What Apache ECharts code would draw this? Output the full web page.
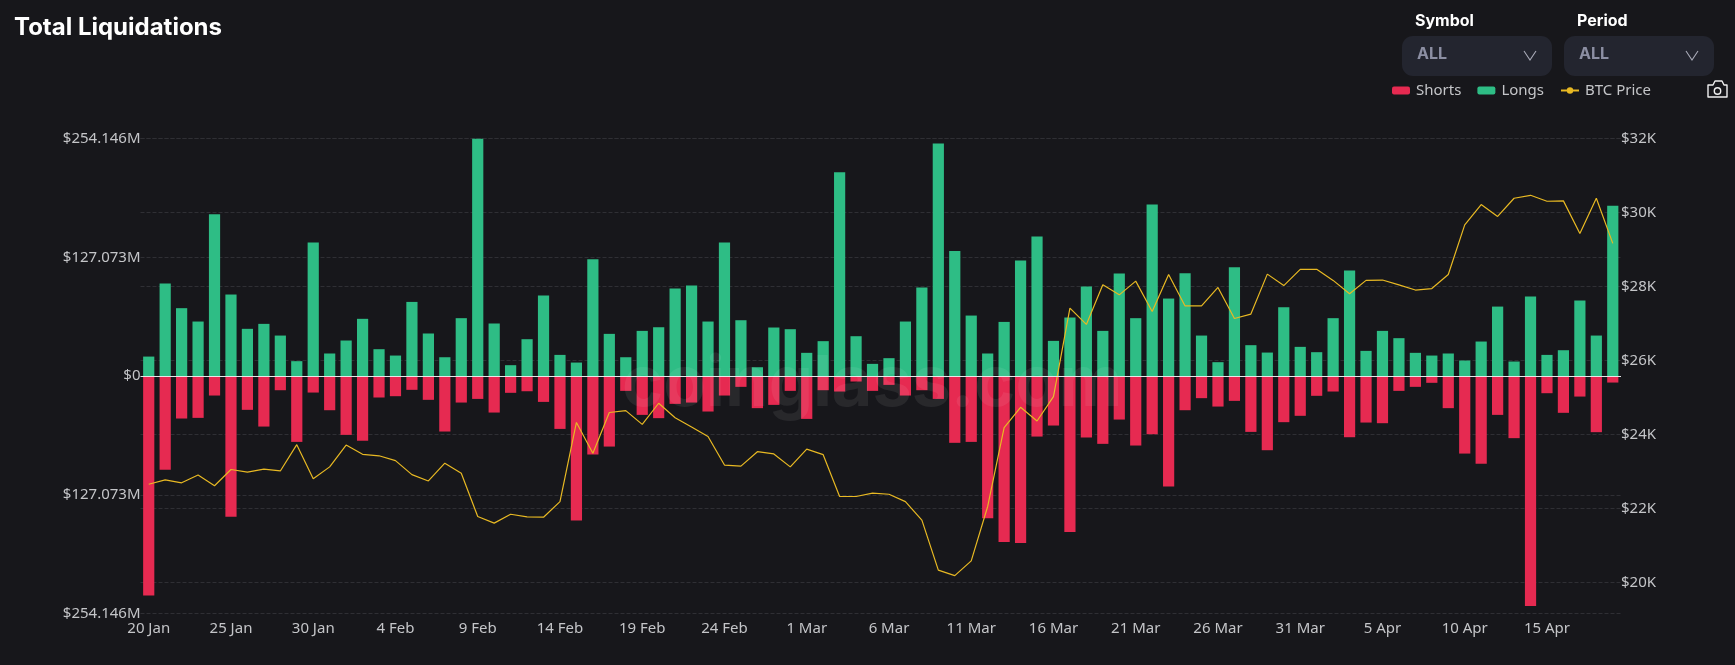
<!DOCTYPE html>
<html><head><meta charset="utf-8">
<style>html,body{margin:0;padding:0;background:#17171b}#c{width:1735px;height:665px}</style>
<script src="https://cdn.jsdelivr.net/npm/echarts@6/dist/echarts.min.js"></script>
</head><body><div id="c"></div>
<script>
const startDay = Date.UTC(2023, 0, 20);
const monthNames = ['Jan','Feb','Mar','Apr'];
const categories = [];
for (let i = 0; i < 90; i++) { const d = new Date(startDay + i * 864e5); categories.push(d.getUTCDate() + ' ' + monthNames[d.getUTCMonth()]); }
const longs = [21.0,99.2,72.8,58.5,173.4,87.4,50.7,56.0,43.5,16.1,143.0,24.3,38.2,61.4,28.9,22.1,79.5,45.7,20.3,62.1,
254.1,56.4,11.8,39.6,86.3,22.8,14.6,125.2,45.3,20.3,48.5,52.4,93.8,97.0,58.5,143.0,59.9,9.6,52.1,50.3,
25.0,37.5,218.3,42.8,13.2,19.3,58.5,94.9,249.0,134.1,64.9,24.3,58.1,123.8,149.5,37.8,62.8,96.0,48.5,109.9,
62.1,183.7,83.1,110.2,43.5,15.0,116.6,33.2,25.3,73.8,31.4,25.7,62.1,113.1,27.1,48.5,40.7,25.0,22.1,24.3,
16.8,37.1,74.5,15.7,85.3,22.8,27.8,81.0,43.5,182.3];
const shorts = [-234.7,-100.2,-45.3,-44.6,-20.7,-150.5,-36.0,-53.9,-15.0,-70.3,-17.5,-36.4,-62.8,-69.2,-22.8,-21.4,-14.6,-25.3,-59.2,-28.2,
-24.3,-38.9,-17.8,-16.1,-27.5,-56.4,-154.5,-83.8,-75.3,-15.7,-41.4,-44.9,-29.6,-28.2,-37.8,-20.7,-11.4,-34.2,-30.7,-15.7,
-45.7,-15.0,-16.4,-5.7,-15.7,-9.3,-20.7,-15.0,-24.3,-71.3,-70.3,-152.0,-177.3,-178.4,-64.6,-52.8,-166.6,-65.6,-72.4,-46.4,
-74.2,-62.1,-118.1,-36.4,-23.5,-32.5,-26.4,-59.6,-79.2,-49.2,-42.4,-21.0,-16.4,-65.3,-49.6,-50.3,-15.7,-11.4,-7.1,-34.2,
-82.8,-93.8,-41.4,-66.3,-245.8,-18.2,-39.2,-21.8,-59.9,-6.8];
const btcPrice = [22660,22780,22700,22910,22620,23060,22990,23070,23020,23730,22810,23130,23720,23470,23430,23300,22920,22750,23230,22960,
21790,21610,21850,21780,21770,22190,24330,23500,24600,24650,24280,24850,24460,24210,23950,23180,23150,23540,23480,23130,
23610,23460,22330,22330,22420,22390,22190,21690,20340,20190,20590,22060,24190,24740,24370,25030,27420,26980,28050,27780,
28150,27330,28330,27480,27480,27980,27140,27260,28340,28030,28470,28470,28170,27810,28170,28180,28050,27910,27950,28330,
29670,30220,29900,30390,30470,30310,30320,29440,30390,29170];
const priceTicks = [20000,22000,24000,26000,28000,30000,32000];
const liqStep = 127.073;

const FONT = '"Noto Sans", sans-serif';
const LABEL = '#c4c5c8';
const PANEL = '#23252f';
const MUTED = '#8c8fa3';
const GRIDC = '#2f2f34';

function dropdown(x, label) {
  return [
    {type:'rect', shape:{x:x, y:36, width:150, height:40, r:11}, style:{fill:PANEL}},
    {type:'text', x:x+13, y:21, style:{text:label, fill:'#fff', font:'700 16px "Inter", sans-serif', textVerticalAlign:'middle'}},
    {type:'text', x:x+15, y:54, style:{text:'ALL', fill:MUTED, font:'700 16px "Inter", sans-serif', textVerticalAlign:'middle'}},
    {type:'polyline', shape:{points:[[x+122,51],[x+128,60],[x+134,51]]}, style:{stroke:'#a9abb8', lineWidth:1.1, fill:'none'}}
  ];
}
const chart = echarts.init(document.getElementById('c'), null, {renderer:'canvas'});
chart.setOption({
  backgroundColor:'#17171b',
  animation:false,
  textStyle:{fontFamily:FONT},
  title:{text:'Total Liquidations', left:14, top:16, padding:0, textStyle:{color:'#fff', fontSize:24, fontWeight:700, fontFamily:'"Inter", sans-serif'}},
  legend:{left:1392, top:83, itemWidth:18, itemHeight:8, itemGap:16, padding:0,
    data:['Shorts','Longs','BTC Price'],
    textStyle:{color:LABEL, fontSize:15, fontFamily:FONT, padding:[0,0,0,1]}},
  grid:{left:140.5, right:114, top:138.7, height:475},
  xAxis:{type:'category', data:categories, position:'bottom',
    axisLine:{show:false, onZero:false}, axisTick:{show:false},
    axisLabel:{color:LABEL, fontSize:15, interval:4, margin:8, fontFamily:FONT}},
  yAxis:[
    {type:'value', min:-2*liqStep, max:2*liqStep, interval:liqStep,
     axisLine:{show:false}, axisTick:{show:false},
     splitLine:{show:true, lineStyle:{color:GRIDC, type:'dashed', width:1}},
     axisLabel:{color:LABEL, fontSize:15, margin:0, fontFamily:FONT, padding:[0,0,5,0],
       formatter:v=>Math.abs(v)<1e-6?'$0':'$'+Math.abs(v).toFixed(3)+'M'}},
    {type:'value', position:'right', min:19162, max:32000, 
     axisLine:{show:false}, axisTick:{show:false, customValues:priceTicks},
     splitLine:{show:true, lineStyle:{color:GRIDC, type:'dashed', width:1}},
     axisLabel:{color:LABEL, fontSize:15, margin:0, fontFamily:FONT, padding:[0,0,5,0], customValues:priceTicks,
       formatter:v=>'$'+Math.round(v/1000)+'K'}}
  ],
  series:[
    {name:'Shorts', type:'bar', stack:'liq', data:shorts, barWidth:11.2, itemStyle:{color:'#e62a51'},
     markLine:{silent:true, symbol:'none', label:{show:false}, lineStyle:{color:'#e8e8e8', type:'solid', width:1.2}, data:[{yAxis:0}], z:5}},
    {name:'Longs', type:'bar', stack:'liq', data:longs, barWidth:11.2, itemStyle:{color:'#2ebd85'}},
    {name:'BTC Price', type:'line', yAxisIndex:1, data:btcPrice, symbol:'circle', symbolSize:6, showSymbol:false, z:4,
     itemStyle:{color:'#e8b923'}, lineStyle:{color:'#e8b923', width:1.2}}
  ],
  graphic:[
    {type:'text', x:622, y:385, z:10, silent:true, style:{text:'coinglass.com', fill:'rgba(255,255,255,0.075)', font:'700 70px "Inter", sans-serif', textVerticalAlign:'middle'}},
    ...dropdown(1402,'Symbol'), ...dropdown(1564,'Period'),
    {type:'polygon', z:10, shape:{points:[[1708,85],[1713,85],[1715,81],[1722,81],[1724,85],[1727,85],[1727,97],[1708,97]]}, style:{stroke:'#f0f0f0', lineWidth:1.4, fill:'none', lineJoin:'round'}},
    {type:'circle', z:10, shape:{cx:1717.5, cy:91, r:3.2}, style:{stroke:'#f0f0f0', lineWidth:1.4, fill:'none'}}
  ]
});
</script></body></html>
